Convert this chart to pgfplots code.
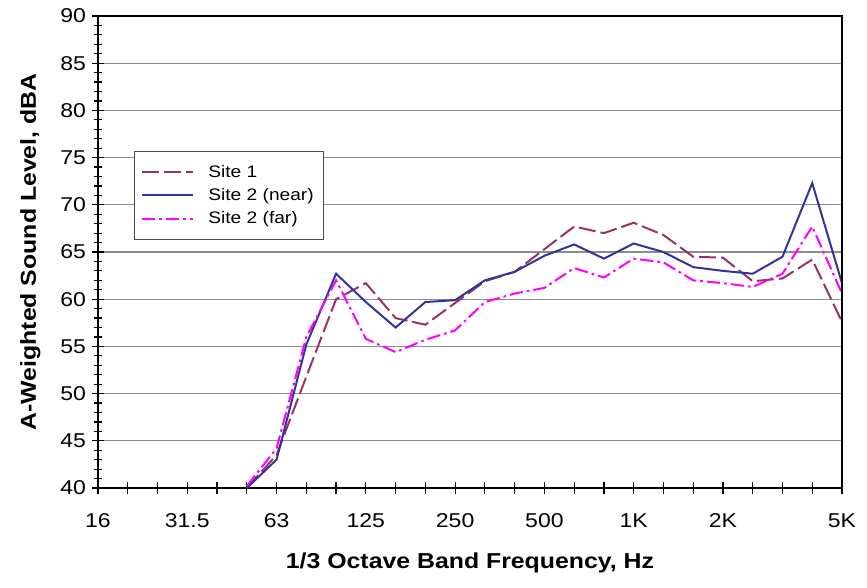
\documentclass[border=0pt]{standalone}
\usepackage{fontspec}
\setmainfont{Liberation Sans}[FakeStretch=1.15]
\usepackage{pgfplots}
\pgfplotsset{compat=1.18}

\definecolor{siteone}{HTML}{993366}
\definecolor{sitenear}{HTML}{333399}
\definecolor{sitefar}{HTML}{FF00FF}
\definecolor{gridgray}{HTML}{8C8C8C}

% x = 1/3 octave band index (0 = 16 Hz ... 25 = 5 kHz), y = A-weighted level in dBA

\begin{document}
\begin{tikzpicture}
\path[use as bounding box] (-73.5pt,-74.25pt) rectangle (576.75pt,366pt);
\begin{axis}[
  scale only axis,
  width=558pt, height=354pt,
  xmin=0, xmax=25, ymin=40, ymax=90,
  xtick={0,...,25},
  xticklabels={16,,,31.5,,,63,,,125,,,250,,,500,,,1K,,,2K,,,,5K},
  ytick={40,45,...,90},
  minor y tick num=4,
  ymajorgrids,
  major grid style={draw=gridgray, line width=1pt},
  axis line style={line width=1.5pt, black},
  tick align=center,
  major tick length=9pt,
  minor tick length=6pt,
  every tick/.style={black, line width=0.9pt},
  xtick pos=bottom, ytick pos=left,
  /pgf/number format/assume math mode=true,
  ticklabel style={font=\fontsize{15}{17}\selectfont},
  xticklabel style={yshift=-11pt},
  yticklabel style={xshift=-1pt},
  xlabel={1/3 Octave Band Frequency, Hz},
  ylabel={A-Weighted Sound Level, dBA},
  xlabel style={font=\bfseries\fontsize{16.2}{18}\selectfont, at={(axis description cs:0.5,-0.159)}, anchor=center},
  ylabel style={font=\bfseries\fontsize{16.2}{18}\selectfont, at={(axis description cs:-0.091,0.5)}, anchor=center, rotate=0},
  legend style={at={(axis description cs:0.048,0.714)}, anchor=north west,
    draw=black!70, line width=0.9pt, fill=white,
    font=\fontsize{12.5}{15}\selectfont, inner xsep=5pt, inner ysep=8pt,
    row sep=3pt,
    /tikz/every odd column/.append style={column sep=9pt}},
  legend cell align=left,
  legend image code/.code={\draw[#1] (0pt,0pt) -- (38pt,0pt);},
]
\addplot[siteone, line width=1.5pt, dash pattern=on 12.75pt off 3.75pt] coordinates {
  (5,40.0) (6,43.5) (7,51.8) (8,60.0) (9,61.7) (10,58.0) (11,57.3)
  (12,59.6) (13,61.9) (14,62.9) (15,65.3) (16,67.7) (17,67.0) (18,68.1)
  (19,66.8) (20,64.5) (21,64.4) (22,61.9) (23,62.2) (24,64.2) (25,57.6)
};
\addlegendentry{Site 1}
\addplot[sitenear, line width=1.5pt] coordinates {
  (5,40.0) (6,43.0) (7,55.2) (8,62.7) (9,59.7) (10,57.0) (11,59.7)
  (12,59.9) (13,62.0) (14,62.9) (15,64.6) (16,65.8) (17,64.3) (18,65.9)
  (19,65.0) (20,63.4) (21,63.0) (22,62.7) (23,64.5) (24,72.3) (25,61.7)
};
\addlegendentry{Site 2 (near)}
\addplot[sitefar, line width=1.5pt, dash pattern=on 10pt off 3pt on 2pt off 3pt] coordinates {
  (5,40.2) (6,44.2) (7,56.0) (8,62.0) (9,55.8) (10,54.4) (11,55.7)
  (12,56.7) (13,59.7) (14,60.6) (15,61.2) (16,63.3) (17,62.3) (18,64.3)
  (19,63.9) (20,62.0) (21,61.7) (22,61.3) (23,62.7) (24,67.7) (25,60.6)
};
\addlegendentry{Site 2 (far)}
\draw[black, line width=1.5pt] (rel axis cs:0,1) -- (rel axis cs:1,1) -- (rel axis cs:1,0);
\end{axis}
\end{tikzpicture}
\end{document}
